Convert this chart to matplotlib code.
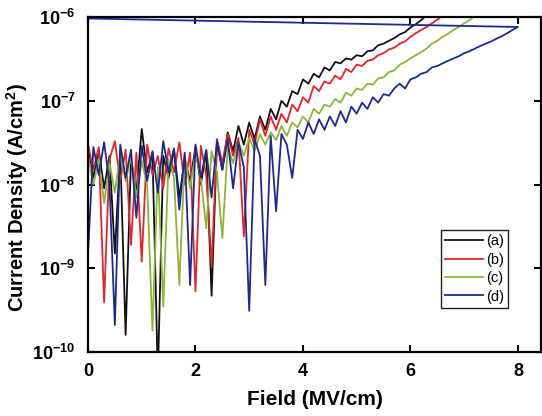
import numpy as np
import matplotlib
matplotlib.use("Agg")
import matplotlib.pyplot as plt
from matplotlib.ticker import FixedLocator, FixedFormatter, NullLocator

plt.rcParams['font.family'] = ['Liberation Sans', 'DejaVu Sans']
plt.rcParams['mathtext.fontset'] = 'custom'
plt.rcParams['mathtext.rm'] = 'Liberation Sans:bold'
plt.rcParams['mathtext.bf'] = 'Liberation Sans:bold'
plt.rcParams['mathtext.it'] = 'Liberation Sans:bold'

FIELD_STEP = 0.1  # MV/cm sampling of the sweeps

# Current density (A/cm^2) sampled every 0.1 MV/cm starting at 0
curve_a = [2.8e-8, 1.2e-8, 2.6e-8, 9e-9, 2.2e-8, 1.5e-9, 2.5e-8, 1.6e-10, 2.0e-8, 8e-9,
           4.6e-8, 1.4e-8, 2.4e-8, 5e-11, 2.2e-8, 1.2e-8, 2.6e-8, 7e-9, 2.0e-8, 1.1e-8,
           2.8e-8, 1.0e-8, 2.5e-8, 4.7e-10, 3.2e-8, 1.5e-8, 4.2e-8, 2.5e-8, 5.0e-8, 3.0e-8,
           5.5e-8, 3.5e-8, 6.5e-8, 4.5e-8, 8.0e-8, 6.0e-8, 1.0e-7, 8.5e-8, 1.3e-7, 1.2e-7,
           1.8e-7, 1.6e-7, 2.1e-7, 1.9e-7, 2.5e-7, 2.3e-7, 2.9e-7, 2.8e-7, 3.2e-7, 3.1e-7,
           3.5e-7, 3.4e-7, 3.9e-7, 4.0e-7, 4.6e-7, 4.8e-7, 5.2e-7, 5.6e-7, 6.2e-7, 6.6e-7,
           7.5e-7, 8.2e-7, 9.2e-7, 1.05e-6]

curve_b = [3.0e-8, 1.5e-8, 2.8e-8, 3.9e-10, 2.0e-8, 3.3e-8, 1.1e-8, 2.6e-8, 1.9e-9, 2.4e-8,
           1.2e-9, 3.0e-8, 1.3e-8, 2.2e-8, 9e-9, 2.7e-8, 1.4e-8, 3.2e-8, 1.0e-8, 2.4e-8,
           5.3e-10, 2.9e-8, 1.3e-8, 1.05e-9, 3.5e-8, 1.8e-8, 4.0e-8, 2.2e-8, 3.6e-8, 2.4e-9,
           4.5e-8, 3.0e-8, 6.0e-8, 3.8e-8, 6.5e-8, 4.5e-8, 7.0e-8, 5.5e-8, 9.0e-8, 7.5e-8,
           1.1e-7, 9.5e-8, 1.5e-7, 1.3e-7, 1.7e-7, 1.6e-7, 2.0e-7, 1.8e-7, 2.4e-7, 2.2e-7,
           2.7e-7, 2.6e-7, 3.0e-7, 3.1e-7, 3.5e-7, 3.7e-7, 4.1e-7, 4.3e-7, 4.8e-7, 5.1e-7,
           5.8e-7, 6.4e-7, 7.0e-7, 7.6e-7, 8.4e-7, 9.3e-7, 1.03e-6]

curve_c = [2.2e-8, 1.0e-8, 2.0e-8, 6e-9, 1.8e-8, 8e-9, 2.3e-8, 1.1e-8, 2.1e-8, 7e-9,
           1.9e-8, 1.0e-8, 1.8e-10, 1.6e-8, 3.5e-10, 2.0e-8, 1.2e-8, 6.3e-10, 2.2e-8, 9e-9,
           2.4e-8, 1.2e-8, 3.0e-9, 2.5e-8, 1.4e-8, 2.3e-9, 2.8e-8, 1.8e-8, 3.2e-8, 2.2e-8,
           3.6e-8, 2.5e-8, 4.0e-8, 3.0e-8, 4.2e-8, 3.4e-8, 5.0e-8, 3.8e-8, 5.5e-8, 4.8e-8,
           6.5e-8, 5.5e-8, 8.0e-8, 7.0e-8, 9.0e-8, 8.5e-8, 1.05e-7, 9.5e-8, 1.25e-7, 1.15e-7,
           1.4e-7, 1.35e-7, 1.6e-7, 1.55e-7, 1.85e-7, 1.9e-7, 2.2e-7, 2.3e-7, 2.7e-7, 2.9e-7,
           3.2e-7, 3.5e-7, 3.8e-7, 4.2e-7, 4.8e-7, 5.2e-7, 5.8e-7, 6.3e-7, 7.0e-7, 7.6e-7,
           8.4e-7, 9.2e-7, 1.02e-6]

curve_d = [1.5e-9, 2.8e-8, 1.3e-8, 3.2e-8, 1.0e-8, 2.1e-10, 3.0e-8, 1.2e-8, 2.6e-8, 4e-9,
           2.9e-8, 1.1e-8, 2.5e-8, 8e-9, 3.3e-8, 1.4e-8, 2.7e-8, 5e-9, 2.4e-8, 6.3e-10,
           3.0e-8, 1.2e-8, 2.6e-8, 7e-9, 3.3e-8, 1.5e-8, 3.5e-8, 9e-9, 3.2e-8, 1.6e-8,
           3.1e-10, 3.5e-8, 2.2e-8, 6.3e-10, 3.8e-8, 4.8e-9, 4.0e-8, 3.0e-8, 1.2e-8, 4.5e-8,
           3.5e-8, 5.5e-8, 4.0e-8, 6.0e-8, 4.5e-8, 6.5e-8, 5.0e-8, 7.5e-8, 5.5e-8, 8.5e-8,
           7.0e-8, 9.5e-8, 8.0e-8, 1.1e-7, 9.5e-8, 1.2e-7, 1.15e-7, 1.4e-7, 1.6e-7, 1.4e-7,
           1.8e-7, 1.9e-7, 2.1e-7, 2.2e-7, 2.5e-7, 2.6e-7, 2.8e-7, 3.0e-7, 3.2e-7, 3.4e-7,
           3.7e-7, 3.9e-7, 4.2e-7, 4.5e-7, 4.8e-7, 5.1e-7, 5.5e-7, 5.9e-7, 6.4e-7, 7.0e-7,
           7.6e-7]
# sweep of (d) returns to zero field at the end
curve_d_return_field = 0.0
curve_d_return_value = 9.6e-7

labels = ['(a)', '(b)', '(c)', '(d)']
colors = ['#111111', '#e3262b', '#8db53c', '#1d2a8c']

x_ticks = [0, 2, 4, 6, 8]
y_ticks = [1e-10, 1e-9, 1e-8, 1e-7, 1e-6]
y_ticklabels = [r'$10^{-10}$', r'$10^{-9}$', r'$10^{-8}$', r'$10^{-7}$', r'$10^{-6}$']

fig = plt.figure(figsize=(5.42, 4.16), dpi=100)
ax = fig.add_axes([88/542, 64/416, 453/542, 335/416])

series = [curve_a, curve_b, curve_c, curve_d]
for i, (vals, lab, col) in enumerate(zip(series, labels, colors)):
    x = np.arange(len(vals)) * FIELD_STEP
    y = np.array(vals)
    if i == 3:
        x = np.append(x, curve_d_return_field)
        y = np.append(y, curve_d_return_value)
    ax.plot(x, y, color=col, lw=1.3, label=lab)

ax.set_yscale('log')
ax.set_xlim(0, 8.43)
ax.set_ylim(1e-10, 1e-6)

ax.xaxis.set_major_locator(FixedLocator(x_ticks))
ax.set_xticklabels([str(t) for t in x_ticks], fontweight='bold', fontsize=13)
ax.yaxis.set_major_locator(FixedLocator(y_ticks))
ax.yaxis.set_major_formatter(FixedFormatter(y_ticklabels))
ax.yaxis.set_minor_locator(NullLocator())
for t in ax.get_yticklabels():
    t.set_fontsize(13)

ax.tick_params(which='major', direction='in', length=5, width=1.5,
               top=True, right=True)
ax.tick_params(axis='x', pad=8)
ax.tick_params(axis='y', pad=9)
for s in ax.spines.values():
    s.set_linewidth(1.6)

ax.set_xlabel('Field (MV/cm)', fontsize=15, fontweight='bold', labelpad=7)
ax.set_ylabel(r'Current Density (A/cm$^{2}$)', fontsize=14.5, fontweight='bold')
ax.yaxis.set_label_coords(-0.127, 0.46)

leg = ax.legend(loc='upper left', bbox_to_anchor=(0.779, 0.364), borderaxespad=0,
                fancybox=False, framealpha=1, edgecolor='#222222', fontsize=10.5,
                handlelength=2.6, handletextpad=0.2, labelspacing=0.3,
                borderpad=0.3)
leg.get_frame().set_linewidth(1.0)
for line in leg.get_lines():
    line.set_linewidth(1.3)

fig.savefig('out.png', dpi=100)
